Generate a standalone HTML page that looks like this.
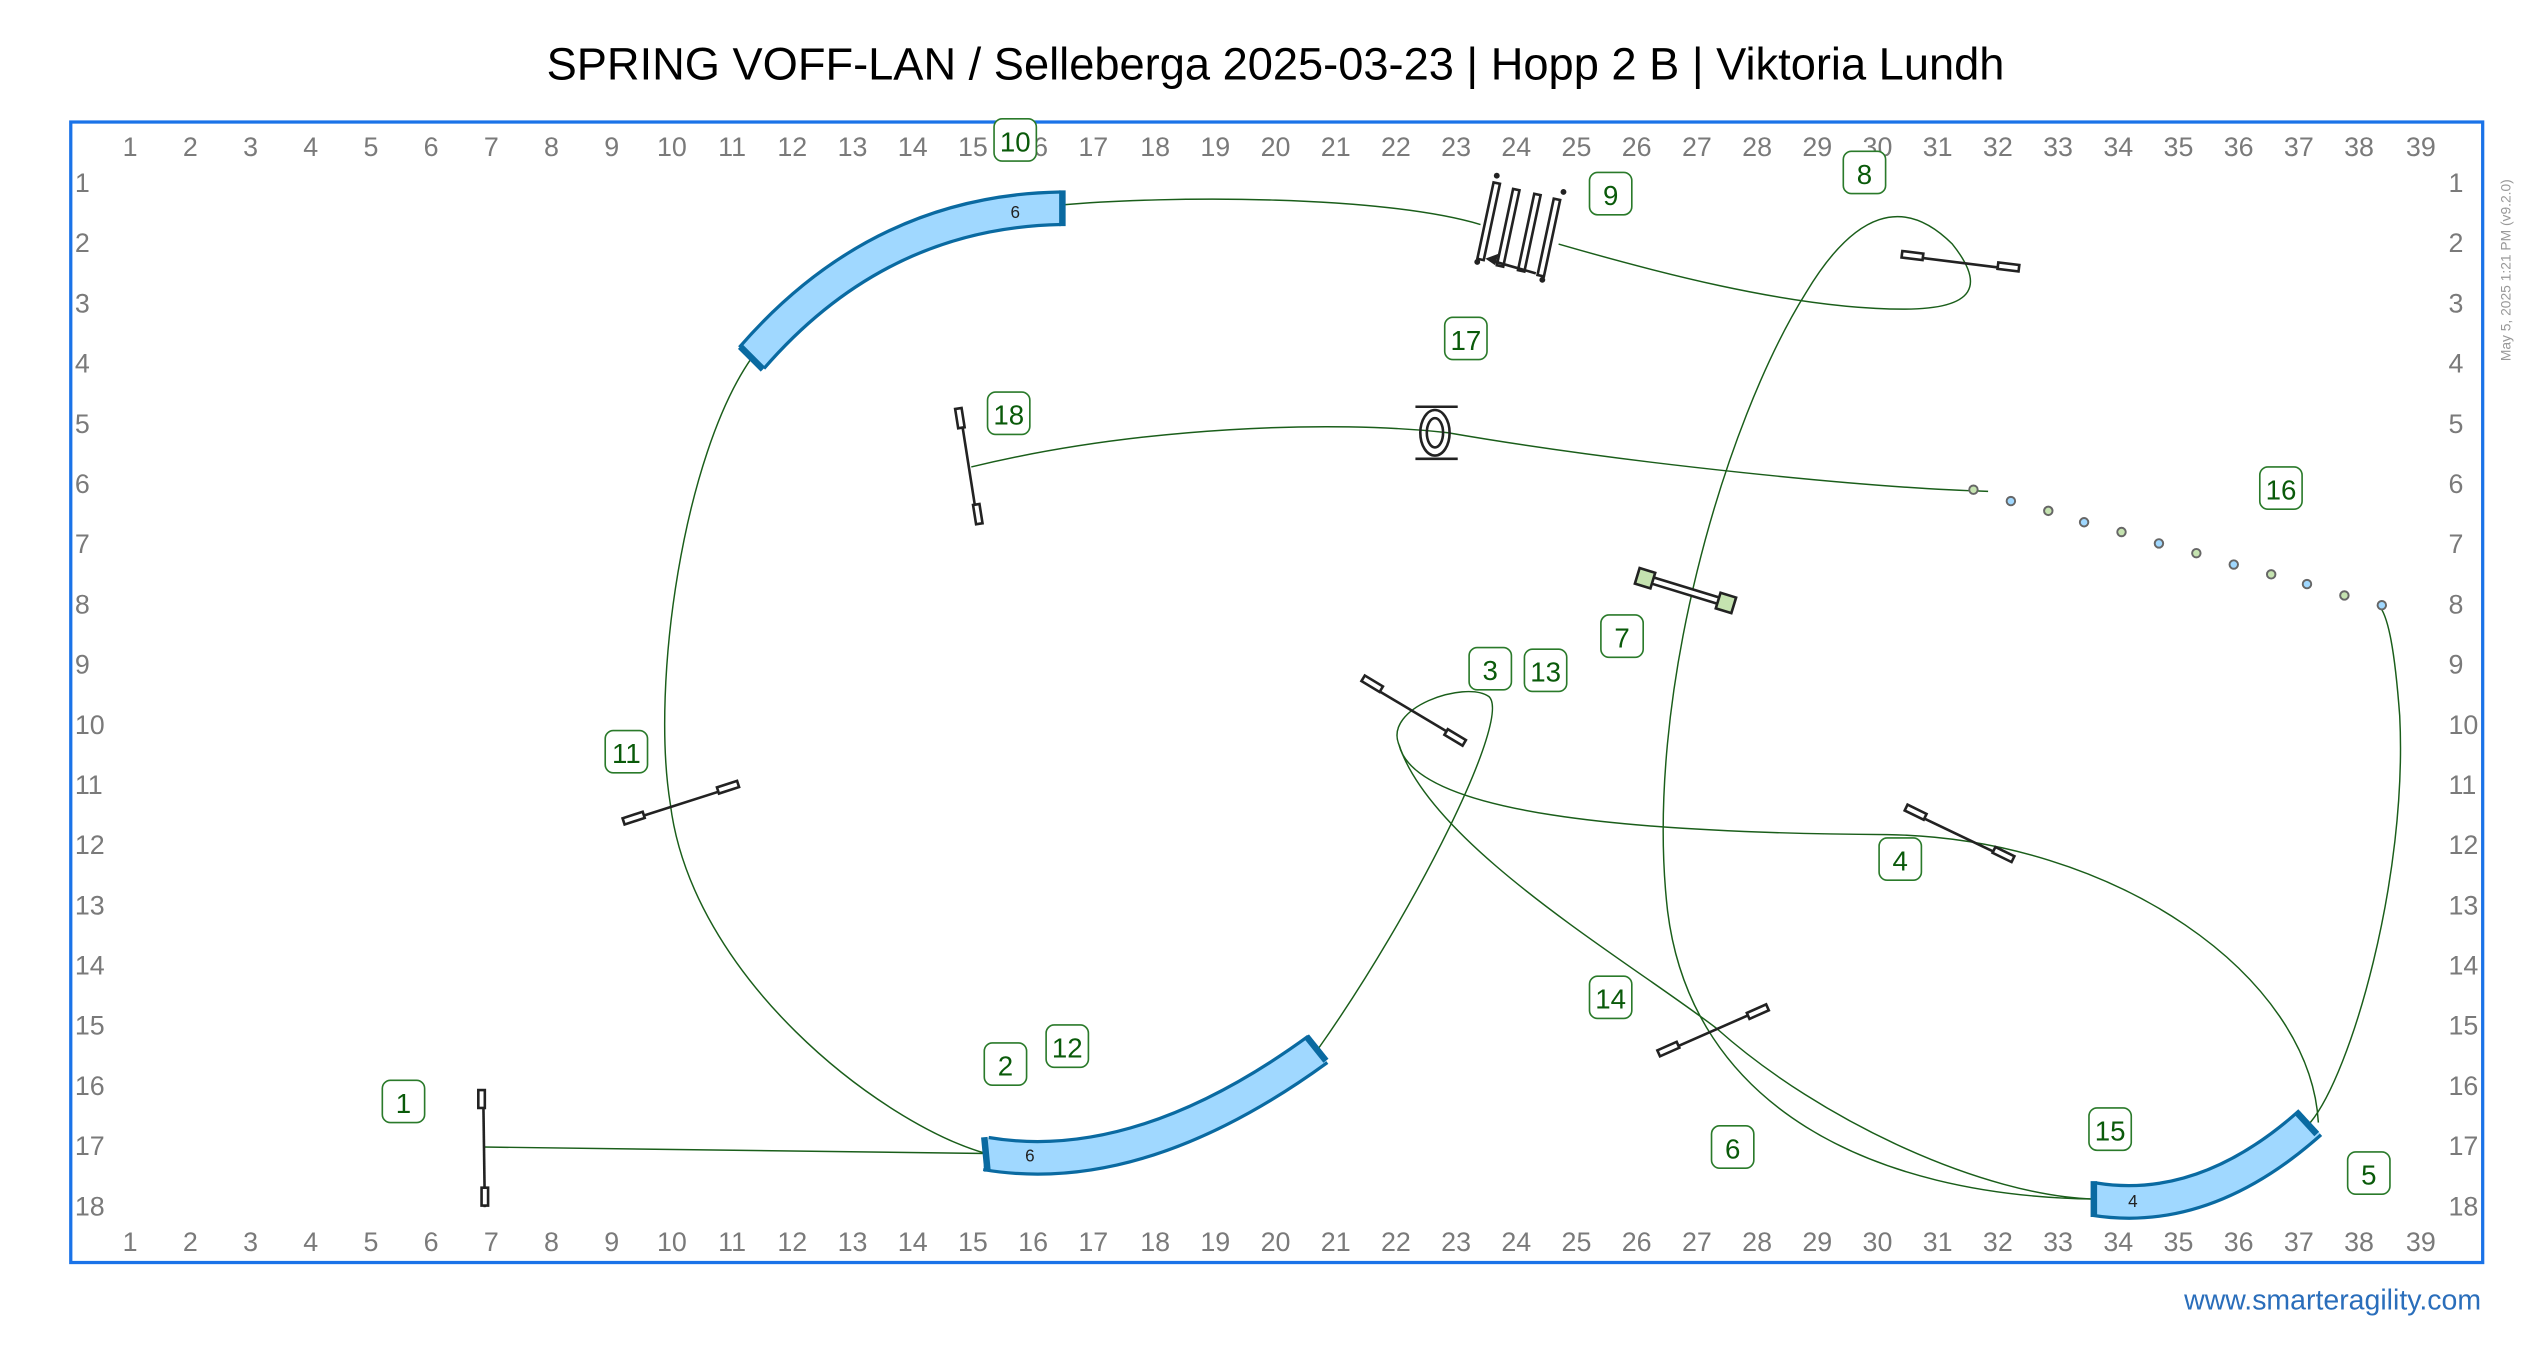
<!DOCTYPE html>
<html><head><meta charset="utf-8"><style>
html,body{margin:0;padding:0;background:#fff;}
svg{display:block;}
text{font-family:"Liberation Sans",sans-serif;}
</style></head><body>
<svg width="2538" height="1359" viewBox="0 0 1560 835.3" preserveAspectRatio="none" xmlns="http://www.w3.org/2000/svg">
<rect width="1560" height="836" fill="#fff"/>
<text x="784" y="49" font-size="27.8" text-anchor="middle" fill="#000">SPRING VOFF-LAN / Selleberga 2025-03-23 | Hopp 2 B | Viktoria Lundh</text>
<rect x="43.5" y="75" width="1482.5" height="701" fill="none" stroke="#1a73e8" stroke-width="2"/>
<g font-size="16.5" fill="#7a7a7a" text-anchor="middle">
<g id="top">
<text x="80" y="96">1</text><text x="117" y="96">2</text><text x="154" y="96">3</text><text x="191" y="96">4</text><text x="228" y="96">5</text><text x="265" y="96">6</text><text x="302" y="96">7</text><text x="339" y="96">8</text><text x="376" y="96">9</text><text x="413" y="96">10</text><text x="450" y="96">11</text><text x="487" y="96">12</text><text x="524" y="96">13</text><text x="561" y="96">14</text><text x="598" y="96">15</text><text x="635" y="96">16</text><text x="672" y="96">17</text><text x="710" y="96">18</text><text x="747" y="96">19</text><text x="784" y="96">20</text><text x="821" y="96">21</text><text x="858" y="96">22</text><text x="895" y="96">23</text><text x="932" y="96">24</text><text x="969" y="96">25</text><text x="1006" y="96">26</text><text x="1043" y="96">27</text><text x="1080" y="96">28</text><text x="1117" y="96">29</text><text x="1154" y="96">30</text><text x="1191" y="96">31</text><text x="1228" y="96">32</text><text x="1265" y="96">33</text><text x="1302" y="96">34</text><text x="1339" y="96">35</text><text x="1376" y="96">36</text><text x="1413" y="96">37</text><text x="1450" y="96">38</text><text x="1488" y="96">39</text>
</g>
<use href="#top" y="673"/>
</g>
<g font-size="16.5" fill="#7a7a7a">
<g id="left">
<text x="46" y="118">1</text><text x="46" y="155">2</text><text x="46" y="192">3</text><text x="46" y="229">4</text><text x="46" y="266">5</text><text x="46" y="303">6</text><text x="46" y="340">7</text><text x="46" y="377">8</text><text x="46" y="414">9</text><text x="46" y="451">10</text><text x="46" y="488">11</text><text x="46" y="525">12</text><text x="46" y="562">13</text><text x="46" y="599">14</text><text x="46" y="636">15</text><text x="46" y="673">16</text><text x="46" y="710">17</text><text x="46" y="747">18</text>
</g>
<use href="#left" x="1459"/>
</g>
<text transform="translate(1543,222) rotate(-90)" font-size="8.5" fill="#999">May 5, 2025 1:21 PM  (v9.2.0)</text>
<text x="1525" y="805" font-size="17.5" fill="#2a6ebb" text-anchor="end">www.smarteragility.com</text>

<g fill="none" stroke="#1a5e1a" stroke-width="0.9">
<path d="M297,705 L606,709"/>
<path d="M810,645 C870,560 930,440 915,428 C900,418 850,435 860,458 C870,500 1000,512 1160,513 C1300,515 1420,600 1425,690"/>
<path d="M860,458 C880,520 1000,590 1055,632 C1120,690 1220,735 1287,737"/>
<path d="M1287,737 C1150,735 1040,680 1025,560 C1010,430 1060,260 1110,180 C1140,130 1170,120 1200,150 C1220,175 1215,190 1170,190 C1100,190 1010,165 958,150"/>
<path d="M910,138 C850,120 720,120 652,126"/>
<path d="M462,220 C420,280 400,420 412,494 C425,600 540,690 606,709"/>
<path d="M1420,690 C1445,660 1480,540 1475,440 C1472,400 1468,378 1462,372"/>
<path d="M1222,302 C1150,300 1000,285 890,266 C820,258 700,262 597,287"/>
</g>

<g fill="none" stroke-linecap="butt">
<path d="M462,220 Q540,130 652,128" stroke="#0a6aa1" stroke-width="22"/>
<path d="M462,220 Q540,130 652,128" stroke="#a0d8ff" stroke-width="18"/>
<path d="M606,709 Q700,725 810,645" stroke="#0a6aa1" stroke-width="22"/>
<path d="M606,709 Q700,725 810,645" stroke="#a0d8ff" stroke-width="18"/>
<path d="M1287,737 Q1355,748 1420,690" stroke="#0a6aa1" stroke-width="22"/>
<path d="M1287,737 Q1355,748 1420,690" stroke="#a0d8ff" stroke-width="18"/>
</g>
<g stroke="#0a6aa1" stroke-width="4" fill="none">
<path d="M653,117 L653,139"/><path d="M455,213 L469,227"/>
<path d="M605,699 L607,720"/><path d="M803,637 L815,652"/>
<path d="M1287,726 L1287,748"/><path d="M1412,684 L1424,697"/>
</g>
<g font-size="10.5" fill="#222" text-anchor="middle">
<text x="624" y="134">6</text><text x="633" y="714">6</text><text x="1311" y="742">4</text>
</g>

<g stroke="#222" stroke-width="1.6" fill="#fff">
<line x1="297" y1="670" x2="298" y2="742"/><rect x="294" y="670" width="4" height="11"/><rect x="296" y="730" width="4" height="11"/>
<line x1="590" y1="252" x2="601" y2="322"/><rect x="588" y="251" width="4" height="12" transform="rotate(-9 590 257)"/><rect x="599" y="310" width="4" height="12" transform="rotate(-9 601 316)"/>
<line x1="384" y1="505" x2="453" y2="483"/><rect x="383" y="501" width="13" height="4" transform="rotate(-18 389 503)"/><rect x="441" y="482" width="13" height="4" transform="rotate(-18 447 484)"/>
<line x1="838" y1="419" x2="900" y2="456"/><rect x="837" y="418" width="13" height="4" transform="rotate(31 843 420)"/><rect x="888" y="451" width="13" height="4" transform="rotate(31 894 453)"/>
<line x1="1172" y1="498" x2="1237" y2="529"/><rect x="1171" y="497" width="13" height="4" transform="rotate(26 1177 499)"/><rect x="1225" y="523" width="13" height="4" transform="rotate(26 1231 525)"/>
<line x1="1020" y1="648" x2="1086" y2="619"/><rect x="1019" y="643" width="13" height="4" transform="rotate(-24 1025 645)"/><rect x="1074" y="620" width="13" height="4" transform="rotate(-24 1080 622)"/>
<line x1="1169" y1="157" x2="1241" y2="166"/><rect x="1169" y="155" width="13" height="4" transform="rotate(7 1175 157)"/><rect x="1228" y="162" width="13" height="4" transform="rotate(7 1234 164)"/>
</g>
<g transform="translate(1036,363) rotate(17)">
<rect x="-24" y="-2" width="48" height="4" fill="#fff" stroke="#222" stroke-width="1.6"/>
<rect x="-31" y="-5" width="10" height="10" fill="#c5e3b0" stroke="#222" stroke-width="1.6"/>
<rect x="21" y="-5" width="10" height="10" fill="#c5e3b0" stroke="#222" stroke-width="1.6"/>
</g>
<g stroke="#222" stroke-width="1.6" fill="#fff">
<rect x="-2" y="-24" width="4" height="48" transform="translate(915,136) rotate(12)"/>
<rect x="-2" y="-24" width="4" height="48" transform="translate(927,140) rotate(12)"/>
<rect x="-2" y="-24" width="4" height="48" transform="translate(940,143) rotate(12)"/>
<rect x="-2" y="-24" width="4" height="48" transform="translate(952,146) rotate(12)"/>
</g>
<g fill="#222"><circle cx="920" cy="108" r="1.8"/><circle cx="961" cy="118" r="1.8"/><circle cx="908" cy="161" r="1.8"/><circle cx="948" cy="172" r="1.8"/></g>
<path d="M944,168 L916,160" stroke="#222" stroke-width="1.6"/><path d="M913,159 L921,156 L919,163 Z" fill="#222"/>
<g stroke="#222" stroke-width="1.6" fill="none">
<ellipse cx="882" cy="266" rx="9" ry="14"/><ellipse cx="882" cy="266" rx="5" ry="9"/>
<line x1="870" y1="250" x2="896" y2="250"/><line x1="870" y1="282" x2="896" y2="282"/>
</g>
<g stroke="#666" stroke-width="1.2">
<circle cx="1213" cy="301" r="2.6" fill="#c5e3b0"/><circle cx="1236" cy="308" r="2.6" fill="#a0d8ff"/><circle cx="1259" cy="314" r="2.6" fill="#c5e3b0"/><circle cx="1281" cy="321" r="2.6" fill="#a0d8ff"/><circle cx="1304" cy="327" r="2.6" fill="#c5e3b0"/><circle cx="1327" cy="334" r="2.6" fill="#a0d8ff"/><circle cx="1350" cy="340" r="2.6" fill="#c5e3b0"/><circle cx="1373" cy="347" r="2.6" fill="#a0d8ff"/><circle cx="1396" cy="353" r="2.6" fill="#c5e3b0"/><circle cx="1418" cy="359" r="2.6" fill="#a0d8ff"/><circle cx="1441" cy="366" r="2.6" fill="#c5e3b0"/><circle cx="1464" cy="372" r="2.6" fill="#a0d8ff"/>
</g>

<g font-size="17" fill="#0a5a0a" text-anchor="middle">
<g fill="#fff" stroke="#2a7a2a" stroke-width="1">
<rect x="235" y="664" width="26" height="26" rx="5"/>
<rect x="605" y="641" width="26" height="26" rx="5"/>
<rect x="643" y="630" width="26" height="26" rx="5"/>
<rect x="903" y="398" width="26" height="26" rx="5"/>
<rect x="937" y="399" width="26" height="26" rx="5"/>
<rect x="1155" y="515" width="26" height="26" rx="5"/>
<rect x="1443" y="708" width="26" height="26" rx="5"/>
<rect x="1052" y="692" width="26" height="26" rx="5"/>
<rect x="984" y="378" width="26" height="26" rx="5"/>
<rect x="1133" y="93" width="26" height="26" rx="5"/>
<rect x="977" y="106" width="26" height="26" rx="5"/>
<rect x="611" y="73" width="26" height="26" rx="5"/>
<rect x="372" y="449" width="26" height="26" rx="5"/>
<rect x="977" y="600" width="26" height="26" rx="5"/>
<rect x="1284" y="681" width="26" height="26" rx="5"/>
<rect x="1389" y="287" width="26" height="26" rx="5"/>
<rect x="888" y="195" width="26" height="26" rx="5"/>
<rect x="607" y="241" width="26" height="26" rx="5"/>
</g>
<text x="248" y="684">1</text><text x="618" y="661">2</text><text x="656" y="650">12</text><text x="916" y="418">3</text><text x="950" y="419">13</text><text x="1168" y="535">4</text><text x="1456" y="728">5</text><text x="1065" y="712">6</text><text x="997" y="398">7</text><text x="1146" y="113">8</text><text x="990" y="126">9</text><text x="624" y="93">10</text><text x="385" y="469">11</text><text x="990" y="620">14</text><text x="1297" y="701">15</text><text x="1402" y="307">16</text><text x="901" y="215">17</text><text x="620" y="261">18</text>
</g>
</svg>
</body></html>
